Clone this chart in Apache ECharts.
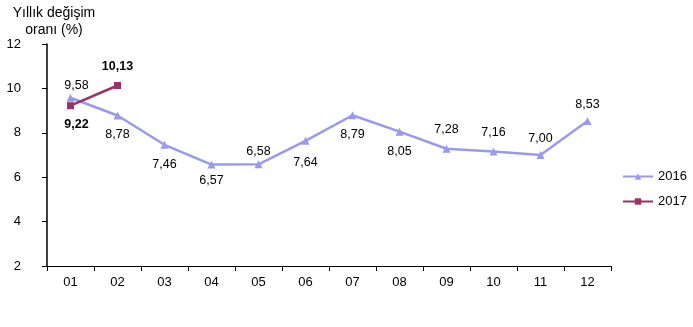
<!DOCTYPE html>
<html><head><meta charset="utf-8">
<script src="https://cdn.jsdelivr.net/npm/echarts@6/dist/echarts.min.js"></script>
<style>html,body{margin:0;padding:0;background:#fff}#c{width:693px;height:327px}</style>
</head><body><div id="c"></div>
<script>
const categories = ['01','02','03','04','05','06','07','08','09','10','11','12'];
const values2016 = [9.58,8.78,7.46,6.57,6.58,7.64,8.79,8.05,7.28,7.16,7.00,8.53];
const values2017 = [9.22,10.13];
const labelPos2016 = ['top','bottom','bottom','bottom','top','bottom','bottom','bottom','top','top','top','top'];
const labelDist2016 = [2,9,9,6,2,11,9,9,9,8,6,6];
const labelDx2016 = [6,0,0,0,0,0,0,0,0,0,0,0];
const labelPos2017 = ['bottom','top'];
const labelDx2017 = [6,0];
const yTicks = [2,4,6,8,10,12];

const fmt = v => v.toFixed(2).replace('.', ',');
const font = 'Liberation Sans, Arial, sans-serif';
const chart = echarts.init(document.getElementById('c'));
chart.setOption({
  animation: false,
  textStyle: {fontFamily: font},
  grid: {left: 47, right: 82, top: 44, bottom: 61, outerBoundsMode: 'none', containLabel: false},
  legend: {
    orient: 'vertical', left: 617, top: 165, itemGap: 12, itemWidth: 30, itemHeight: 8,
    textStyle: {fontSize: 13, color: '#000', fontFamily: font},
    data: ['2016','2017']
  },
  xAxis: {
    type: 'category', data: categories, boundaryGap: true,
    axisLine: {lineStyle: {color: '#000', width: 1}},
    axisTick: {show: true, alignWithLabel: false, length: 5, lineStyle: {color: '#000'}},
    axisLabel: {color: '#000', fontSize: 13, margin: 10, fontFamily: font}
  },
  yAxis: {
    type: 'value', min: yTicks[0], max: yTicks[yTicks.length-1], interval: 2,
    axisLine: {show: true, lineStyle: {color: '#000', width: 1.5}},
    axisTick: {show: true, length: 5, lineStyle: {color: '#000'}},
    axisLabel: {color: '#000', fontSize: 13, margin: 26, fontFamily: font},
    splitLine: {show: false}
  },
  graphic: [{
    type: 'text', x: 54, y: 5,
    style: {text: 'Yıllık değişim\noranı (%)', fontSize: 14, lineHeight: 17, fill: '#000', align: 'center', verticalAlign: 'top', fontFamily: font}
  }],
  series: [
    {
      name: '2016', type: 'line',
      data: values2016.map((v,i)=>({value: v, label: {position: labelPos2016[i], distance: labelDist2016[i], offset: [labelDx2016[i],0]}})),
      symbol: 'triangle', symbolSize: 8,
      lineStyle: {color: '#9999ee', width: 2.5}, itemStyle: {color: '#9999ee'},
      label: {show: true, color: '#000', fontSize: 12.5, fontFamily: font, formatter: p => fmt(p.value)},
      z: 2
    },
    {
      name: '2017', type: 'line',
      data: values2017.map((v,i)=>({value: v, label: {position: labelPos2017[i], offset: [labelDx2017[i],0]}})),
      symbol: 'rect', symbolSize: 7,
      lineStyle: {color: '#993366', width: 2.5}, itemStyle: {color: '#993366'},
      label: {show: true, distance: 9, color: '#000', fontSize: 12.5, fontWeight: 'bold', fontFamily: font, formatter: p => fmt(p.value)},
      z: 3
    }
  ]
});
</script></body></html>
